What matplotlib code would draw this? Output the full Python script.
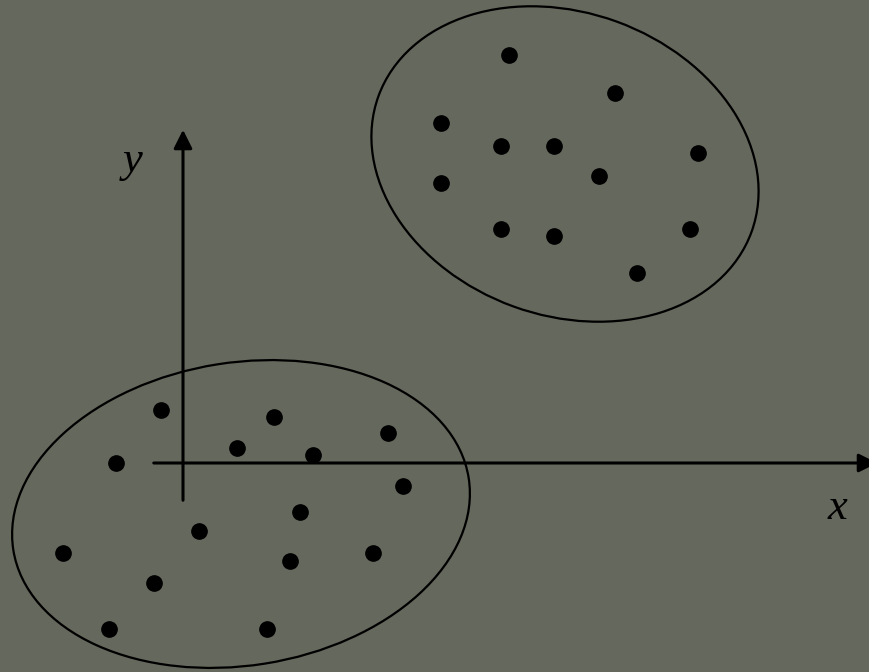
import matplotlib.pyplot as plt
from matplotlib.patches import Ellipse

# point positions (pixel space, y down)
lower_x = [161, 274, 237, 313, 388, 116, 403, 300, 199, 63, 290, 373, 154, 109, 267]
lower_y = [410, 417, 448, 455, 433, 463, 486, 512, 531, 553, 561, 553, 583, 629, 629]
upper_x = [509, 615, 441, 501, 554, 698, 599, 441, 501, 554, 690, 637]
upper_y = [55, 93, 123, 146, 146, 153, 176, 183, 229, 236, 229, 273]

bg = '#65685c'

fig = plt.figure(figsize=(8.69, 6.72), dpi=100, facecolor=bg)
ax = fig.add_axes([0, 0, 1, 1])
ax.set_facecolor(bg)
ax.set_xlim(0, 869)
ax.set_ylim(672, 0)
ax.axis('off')

# clusters
ax.add_patch(Ellipse((241, 514), 461, 303, angle=-9, fill=False, ec='black', lw=1.6))
ax.add_patch(Ellipse((565, 164), 397, 303, angle=20, fill=False, ec='black', lw=1.6))

ax.plot(lower_x, lower_y, 'o', color='black', ms=11)
ax.plot(upper_x, upper_y, 'o', color='black', ms=11)

# axes arrows
ax.annotate('', xy=(183, 127), xytext=(183, 503), annotation_clip=False,
            arrowprops=dict(arrowstyle='-|>', color='black', lw=2.2, mutation_scale=28))
ax.annotate('', xy=(880, 463), xytext=(151, 463), annotation_clip=False,
            arrowprops=dict(arrowstyle='-|>', color='black', lw=2.2, mutation_scale=28))

ax.text(133, 161, 'y', fontsize=32, style='italic', family='Liberation Serif', ha='center', va='center')
ax.text(837, 508, 'x', fontsize=32, style='italic', family='Liberation Serif', ha='center', va='center')

fig.savefig('out.png', dpi=100, facecolor=bg)
